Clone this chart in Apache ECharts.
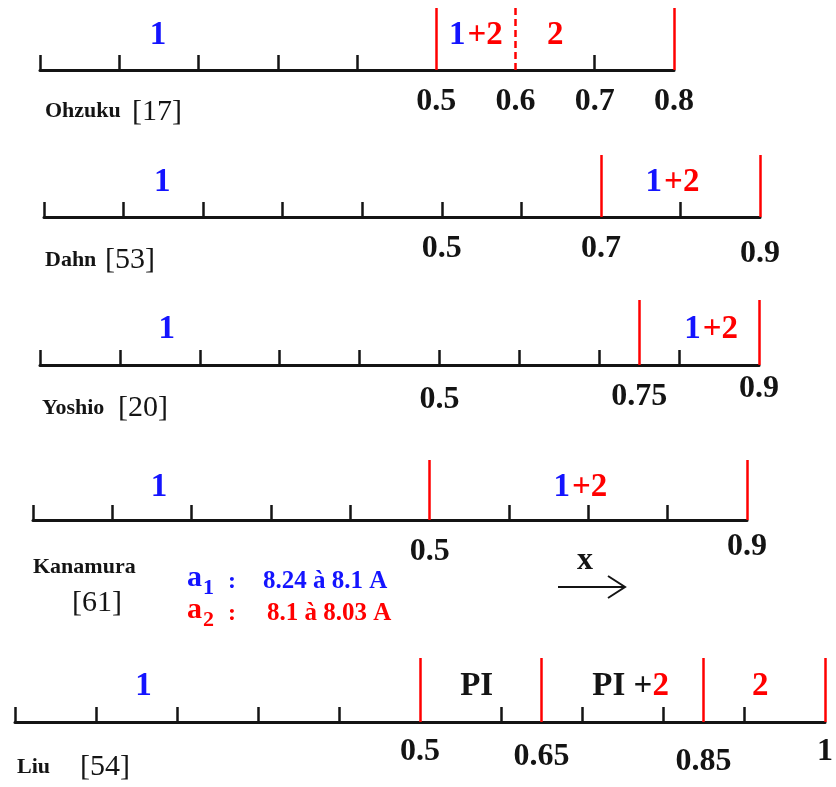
<!DOCTYPE html>
<html><head><meta charset="utf-8">
<script src="https://cdn.jsdelivr.net/npm/echarts@6/dist/echarts.min.js"></script>
<style>html,body{margin:0;padding:0;background:#fff}#c{width:836px;height:787px}</style>
</head><body><div id="c"></div>
<script>
// ---- data ----
const authors = ['Ohzuku', 'Dahn', 'Yoshio', 'Kanamura', 'Liu'];
const refs = ['[17]', '[53]', '[20]', '[61]', '[54]'];
const axisMax = [0.8, 0.9, 0.9, 0.9, 1];
const boundaries = [[0.5, 0.8], [0.7, 0.9], [0.75, 0.9], [0.5, 0.9], [0.5, 0.65, 0.85, 1]];
const dashedBoundaries = [[0.6], [], [], [], []];
const tickLabels = [[0.5, 0.6, 0.7, 0.8], [0.5, 0.7, 0.9], [0.5, 0.75, 0.9], [0.5, 0.9], [0.5, 0.65, 0.85, 1]];
const regionText = [['1', '1+2', '2'], ['1', '1+2'], ['1', '1+2'], ['1', '1+2'], ['1', 'PI', 'PI+2', '2']];
const regionAt = [[0.15, 0.55, 0.65], [0.15, 0.79], [0.16, 0.84], [0.16, 0.69], [0.16, 0.57, 0.76, 0.92]];
const latticeParam = ['1', '2'];
const latticeRange = ['8.24 à 8.1 A', '8.1 à 8.03 A'];
const directionLabel = 'x';

// ---- layout / style ----
const BLUE = '#1414ff', RED = '#ff0000', INK = '#141414';
const SERIF = '"Liberation Serif", "Times New Roman", serif';
const grids = [
  {left: 40, width: 634, top: 8, height: 62},
  {left: 44, width: 716, top: 155, height: 62},
  {left: 40, width: 719, top: 300, height: 65},
  {left: 33, width: 714, top: 460, height: 60},
  {left: 15, width: 812, top: 658, height: 64}
];
const labelMargin = [16, 16, 8, 11, 14];
const labelDrop = [[0, 0, 0, 0], [0, 0, 5], [11, 8, 0], [5, 0], [0, 5, 10, 0]];
const REGION_Y = 0.55;
const namePos = [
  {nx: 45, ny: 111, rx: 132, ry: 112},
  {nx: 45, ny: 260, rx: 105, ry: 260},
  {nx: 42, ny: 408, rx: 118, ry: 408},
  {nx: 33, ny: 567, rx: 72, ry: 603},
  {nx: 17, ny: 767, rx: 80, ry: 767}
];

function richOf(s) {
  if (s === 'PI+2') return '{k|PI +}{r|2}';
  if (s === 'PI') return '{k|PI}';
  return s.replace('1', '{b|1}').replace('+2', '{r|+2}').replace(/^2$/, '{r|2}');
}
const tokenBase = {fontFamily: SERIF, fontWeight: 'bold', fontSize: 33, opacity: 1};
const dropRich = {};
[0, 5, 8, 10, 11].forEach(d => {
  dropRich['d' + d] = Object.assign({}, tokenBase, {fontSize: 32, color: INK, padding: [d, 0, 0, 0]});
});

const chart = echarts.init(document.getElementById('c'), null, {renderer: 'canvas'});
const option = {
  animation: false,
  backgroundColor: '#fff',
  grid: grids.map(g => Object.assign({containLabel: false}, g)),
  xAxis: grids.map((g, i) => {
    const ticks = [];
    const stops = boundaries[i].concat(dashedBoundaries[i]);
    for (let k = 0; k <= Math.round(axisMax[i] * 10); k++) {
      const v = k / 10;
      if (!stops.some(b => Math.abs(b - v) < 1e-6)) ticks.push(v);
    }
    return {
      type: 'value', gridIndex: i, min: 0, max: axisMax[i], interval: 0.1,
      position: 'bottom',
      axisLine: {show: true, onZero: false, lineStyle: {color: INK, width: 3}},
      axisTick: {show: true, inside: true, length: 15, customValues: ticks, lineStyle: {color: INK, width: 2.5}},
      axisLabel: {
        show: true, margin: labelMargin[i], customValues: tickLabels[i],
        fontFamily: SERIF, fontWeight: 'bold', fontSize: 32, color: INK,
        formatter: (v) => {
          const idx = tickLabels[i].findIndex(t => Math.abs(t - v) < 1e-6);
          const d = idx >= 0 ? labelDrop[i][idx] : 0;
          return '{d' + d + '|' + String(v) + '}';
        },
        rich: dropRich
      },
      splitLine: {show: false}
    };
  }),
  yAxis: grids.map((g, i) => ({type: 'value', gridIndex: i, min: 0, max: 1, show: false})),
  series: grids.map((g, i) => ({
    type: 'scatter', xAxisIndex: i, yAxisIndex: i, symbolSize: 0, silent: true,
    itemStyle: {opacity: 1},
    emphasis: {disabled: true},
    data: regionAt[i].map(x => [x, REGION_Y]),
    label: {
      show: true, position: 'inside', opacity: 1,
      formatter: p => richOf(regionText[i][p.dataIndex]),
      rich: {
        b: Object.assign({}, tokenBase, {color: BLUE, padding: [0, 2, 0, 0]}),
        r: Object.assign({}, tokenBase, {color: RED}),
        k: Object.assign({}, tokenBase, {color: INK})
      }
    },
    markLine: {
      silent: true, symbol: ['none', 'none'], label: {show: false},
      data: boundaries[i].map(b => ({xAxis: b, lineStyle: {color: RED, width: 2.5, type: 'solid', opacity: 1}}))
        .concat(dashedBoundaries[i].map(b => ({xAxis: b, lineStyle: {color: RED, width: 2.5, type: [7, 4], opacity: 1}})))
    }
  })),
  graphic: []
};

// author names and references
authors.forEach((a, i) => {
  const p = namePos[i];
  option.graphic.push({type: 'text', x: p.nx, y: p.ny, style: {text: a, font: 'bold 22px ' + SERIF, fill: INK, verticalAlign: 'middle', align: 'left'}});
  option.graphic.push({type: 'text', x: p.rx, y: p.ry, style: {text: refs[i], font: '30px ' + SERIF, fill: INK, verticalAlign: 'middle', align: 'left'}});
});
// lattice parameter notes
const noteColors = [BLUE, RED];
const noteY = [582, 614];
const noteTextX = [263, 267];
latticeParam.forEach((s, i) => {
  const c = noteColors[i], y = noteY[i];
  option.graphic.push({type: 'text', x: 187, y: y - 4, style: {text: 'a', font: 'bold 30px ' + SERIF, fill: c, verticalAlign: 'middle'}});
  option.graphic.push({type: 'text', x: 203, y: y + 6, style: {text: s, font: 'bold 22px ' + SERIF, fill: c, verticalAlign: 'middle'}});
  option.graphic.push({type: 'text', x: 228, y: y, style: {text: ':', font: 'bold 24px ' + SERIF, fill: c, verticalAlign: 'middle'}});
  option.graphic.push({type: 'text', x: noteTextX[i], y: y, style: {text: latticeRange[i], font: 'bold 25px ' + SERIF, fill: c, verticalAlign: 'middle'}});
});
// direction arrow
option.graphic.push({type: 'text', x: 585, y: 561, style: {text: directionLabel, font: 'bold 32px ' + SERIF, fill: INK, align: 'center', verticalAlign: 'middle'}});
option.graphic.push({type: 'line', shape: {x1: 558, y1: 587, x2: 624, y2: 587}, style: {stroke: INK, lineWidth: 2}});
option.graphic.push({type: 'polyline', shape: {points: [[608, 576], [625, 587], [608, 598]]}, style: {stroke: INK, lineWidth: 2, fill: null}});

chart.setOption(option);
</script>
</body></html>
